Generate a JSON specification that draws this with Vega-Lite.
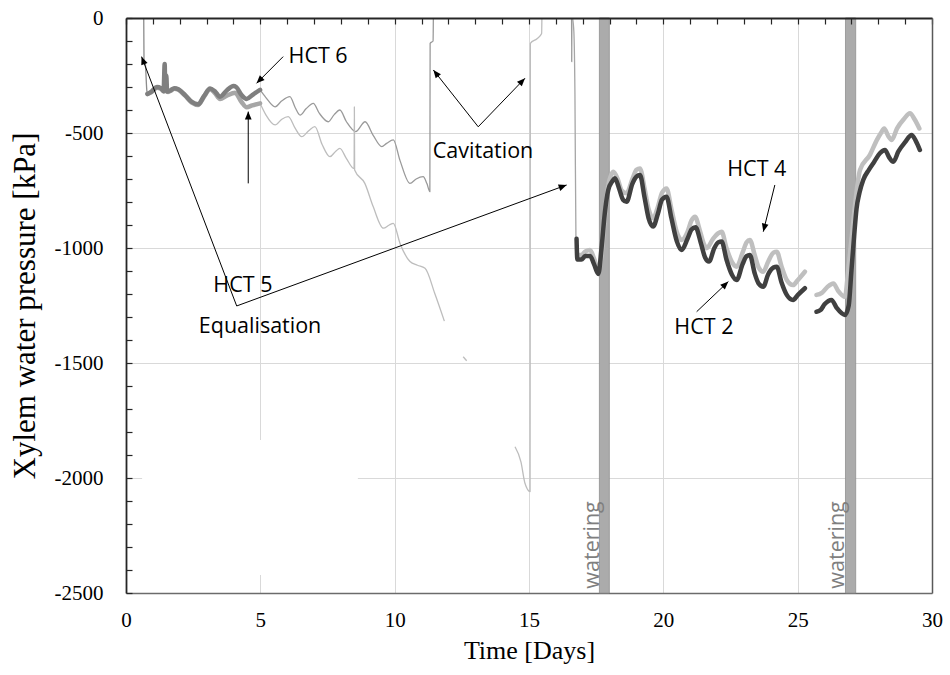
{
  "$schema": "https://vega.github.io/schema/vega-lite/v6.json",
  "width": 806,
  "height": 575,
  "autosize": {"type": "none"},
  "padding": {"left": 126, "top": 18, "right": 18, "bottom": 82},
  "background": "white",
  "config": {"view": {"stroke": null}},
  "datasets": {
    "thin": [
      {"series": "start", "seg": "a", "day": 0.66, "kPa": 0},
      {"series": "start", "seg": "a", "day": 0.67, "kPa": -180},
      {"series": "start", "seg": "a", "day": 0.72, "kPa": -200},
      {"series": "start", "seg": "a", "day": 0.78, "kPa": -320},
      {"series": "start", "seg": "a", "day": 0.82, "kPa": -330},
      {"series": "HCT 6 drift", "seg": "a", "day": 4.99, "kPa": -313},
      {"series": "HCT 6 drift", "seg": "a", "day": 5.2, "kPa": -345},
      {"series": "HCT 6 drift", "seg": "a", "day": 5.55, "kPa": -386},
      {"series": "HCT 6 drift", "seg": "a", "day": 5.8, "kPa": -360},
      {"series": "HCT 6 drift", "seg": "a", "day": 6.1, "kPa": -342},
      {"series": "HCT 6 drift", "seg": "a", "day": 6.3, "kPa": -390},
      {"series": "HCT 6 drift", "seg": "a", "day": 6.48, "kPa": -422},
      {"series": "HCT 6 drift", "seg": "a", "day": 6.7, "kPa": -395},
      {"series": "HCT 6 drift", "seg": "a", "day": 6.97, "kPa": -371},
      {"series": "HCT 6 drift", "seg": "a", "day": 7.2, "kPa": -415},
      {"series": "HCT 6 drift", "seg": "a", "day": 7.53, "kPa": -451},
      {"series": "HCT 6 drift", "seg": "a", "day": 7.75, "kPa": -420},
      {"series": "HCT 6 drift", "seg": "a", "day": 7.96, "kPa": -400},
      {"series": "HCT 6 drift", "seg": "a", "day": 8.2, "kPa": -450},
      {"series": "HCT 6 drift", "seg": "a", "day": 8.55, "kPa": -494},
      {"series": "HCT 6 drift", "seg": "a", "day": 8.9, "kPa": -451},
      {"series": "HCT 6 drift", "seg": "a", "day": 9.2, "kPa": -510},
      {"series": "HCT 6 drift", "seg": "a", "day": 9.52, "kPa": -559},
      {"series": "HCT 6 drift", "seg": "a", "day": 9.7, "kPa": -545},
      {"series": "HCT 6 drift", "seg": "a", "day": 9.95, "kPa": -530},
      {"series": "HCT 6 drift", "seg": "a", "day": 10.2, "kPa": -620},
      {"series": "HCT 6 drift", "seg": "a", "day": 10.57, "kPa": -719},
      {"series": "HCT 6 drift", "seg": "a", "day": 10.8, "kPa": -700},
      {"series": "HCT 6 drift", "seg": "a", "day": 11.06, "kPa": -690},
      {"series": "HCT 6 drift", "seg": "a", "day": 11.2, "kPa": -720},
      {"series": "HCT 6 drift", "seg": "a", "day": 11.31, "kPa": -755},
      {"series": "HCT 6 drift", "seg": "a", "day": 11.32, "kPa": -110},
      {"series": "HCT 6 drift", "seg": "a", "day": 11.43, "kPa": -100},
      {"series": "HCT 6 drift", "seg": "a", "day": 11.44, "kPa": 0},
      {"series": "HCT 5 drift", "seg": "a", "day": 4.99, "kPa": -371},
      {"series": "HCT 5 drift", "seg": "a", "day": 5.2, "kPa": -420},
      {"series": "HCT 5 drift", "seg": "a", "day": 5.55, "kPa": -465},
      {"series": "HCT 5 drift", "seg": "a", "day": 5.8, "kPa": -440},
      {"series": "HCT 5 drift", "seg": "a", "day": 6.04, "kPa": -429},
      {"series": "HCT 5 drift", "seg": "a", "day": 6.3, "kPa": -480},
      {"series": "HCT 5 drift", "seg": "a", "day": 6.54, "kPa": -516},
      {"series": "HCT 5 drift", "seg": "a", "day": 6.8, "kPa": -490},
      {"series": "HCT 5 drift", "seg": "a", "day": 7.03, "kPa": -472},
      {"series": "HCT 5 drift", "seg": "a", "day": 7.3, "kPa": -550},
      {"series": "HCT 5 drift", "seg": "a", "day": 7.59, "kPa": -603},
      {"series": "HCT 5 drift", "seg": "a", "day": 7.8, "kPa": -580},
      {"series": "HCT 5 drift", "seg": "a", "day": 7.96, "kPa": -567},
      {"series": "HCT 5 drift", "seg": "a", "day": 8.2, "kPa": -610},
      {"series": "HCT 5 drift", "seg": "a", "day": 8.49, "kPa": -655},
      {"series": "HCT 5 drift", "seg": "a", "day": 8.5, "kPa": -386},
      {"series": "HCT 5 drift", "seg": "a", "day": 8.51, "kPa": -661},
      {"series": "HCT 5 drift", "seg": "a", "day": 8.89, "kPa": -719},
      {"series": "HCT 5 drift", "seg": "a", "day": 9.2, "kPa": -820},
      {"series": "HCT 5 drift", "seg": "a", "day": 9.58, "kPa": -914},
      {"series": "HCT 5 drift", "seg": "a", "day": 9.8, "kPa": -900},
      {"series": "HCT 5 drift", "seg": "a", "day": 9.95, "kPa": -893},
      {"series": "HCT 5 drift", "seg": "a", "day": 10.2, "kPa": -980},
      {"series": "HCT 5 drift", "seg": "a", "day": 10.57, "kPa": -1059},
      {"series": "HCT 5 drift", "seg": "a", "day": 10.85, "kPa": -1075},
      {"series": "HCT 5 drift", "seg": "a", "day": 11.13, "kPa": -1088},
      {"series": "HCT 5 drift", "seg": "a", "day": 11.5, "kPa": -1200},
      {"series": "HCT 5 drift", "seg": "a", "day": 11.85, "kPa": -1318},
      {"series": "HCT 5 drift", "seg": "b", "day": 12.55, "kPa": -1473},
      {"series": "HCT 5 drift", "seg": "b", "day": 12.68, "kPa": -1490},
      {"series": "HCT 5 drift", "seg": "c", "day": 14.48, "kPa": -1864},
      {"series": "HCT 5 drift", "seg": "c", "day": 14.7, "kPa": -1930},
      {"series": "HCT 5 drift", "seg": "c", "day": 14.85, "kPa": -2023},
      {"series": "HCT 5 drift", "seg": "c", "day": 15.04, "kPa": -2059},
      {"series": "HCT 5 drift", "seg": "c", "day": 15.05, "kPa": -110},
      {"series": "HCT 5 drift", "seg": "c", "day": 15.3, "kPa": -90},
      {"series": "HCT 5 drift", "seg": "c", "day": 15.47, "kPa": -67},
      {"series": "HCT 5 drift", "seg": "c", "day": 15.48, "kPa": 0},
      {"series": "spike", "seg": "a", "day": 16.585, "kPa": 0},
      {"series": "spike", "seg": "a", "day": 16.59, "kPa": -190},
      {"series": "spike", "seg": "a", "day": 16.595, "kPa": 0},
      {"series": "HCT 4 drop", "seg": "a", "day": 16.62, "kPa": 0},
      {"series": "HCT 4 drop", "seg": "a", "day": 16.67, "kPa": -60},
      {"series": "HCT 4 drop", "seg": "a", "day": 16.71, "kPa": -330},
      {"series": "HCT 4 drop", "seg": "a", "day": 16.75, "kPa": -1000},
      {"series": "HCT 4 drop", "seg": "a", "day": 16.8, "kPa": -1035}
    ],
    "thick": [
      {"series": "HCT 5", "seg": "a", "day": 0.8, "kPa": -330},
      {"series": "HCT 5", "seg": "a", "day": 0.95, "kPa": -322},
      {"series": "HCT 5", "seg": "a", "day": 1.15, "kPa": -303},
      {"series": "HCT 5", "seg": "a", "day": 1.3, "kPa": -308},
      {"series": "HCT 5", "seg": "a", "day": 1.42, "kPa": -320},
      {"series": "HCT 5", "seg": "a", "day": 1.48, "kPa": -312},
      {"series": "HCT 5", "seg": "a", "day": 1.56, "kPa": -322},
      {"series": "HCT 5", "seg": "a", "day": 1.65, "kPa": -317},
      {"series": "HCT 5", "seg": "a", "day": 1.8, "kPa": -308},
      {"series": "HCT 5", "seg": "a", "day": 1.95, "kPa": -312},
      {"series": "HCT 5", "seg": "a", "day": 2.2, "kPa": -338},
      {"series": "HCT 5", "seg": "a", "day": 2.45, "kPa": -368},
      {"series": "HCT 5", "seg": "a", "day": 2.69, "kPa": -378},
      {"series": "HCT 5", "seg": "a", "day": 2.9, "kPa": -343},
      {"series": "HCT 5", "seg": "a", "day": 3.13, "kPa": -310},
      {"series": "HCT 5", "seg": "a", "day": 3.3, "kPa": -325},
      {"series": "HCT 5", "seg": "a", "day": 3.5, "kPa": -352},
      {"series": "HCT 5", "seg": "a", "day": 3.75, "kPa": -338},
      {"series": "HCT 5", "seg": "a", "day": 4.06, "kPa": -325},
      {"series": "HCT 5", "seg": "a", "day": 4.3, "kPa": -365},
      {"series": "HCT 5", "seg": "a", "day": 4.49, "kPa": -388},
      {"series": "HCT 5", "seg": "a", "day": 4.7, "kPa": -380},
      {"series": "HCT 5", "seg": "a", "day": 4.99, "kPa": -371},
      {"series": "HCT 6", "seg": "a", "day": 0.8, "kPa": -330},
      {"series": "HCT 6", "seg": "a", "day": 0.95, "kPa": -320},
      {"series": "HCT 6", "seg": "a", "day": 1.15, "kPa": -300},
      {"series": "HCT 6", "seg": "a", "day": 1.3, "kPa": -305},
      {"series": "HCT 6", "seg": "a", "day": 1.4, "kPa": -318},
      {"series": "HCT 6", "seg": "a", "day": 1.44, "kPa": -200},
      {"series": "HCT 6", "seg": "a", "day": 1.46, "kPa": -310},
      {"series": "HCT 6", "seg": "a", "day": 1.5, "kPa": -250},
      {"series": "HCT 6", "seg": "a", "day": 1.53, "kPa": -320},
      {"series": "HCT 6", "seg": "a", "day": 1.65, "kPa": -315},
      {"series": "HCT 6", "seg": "a", "day": 1.8, "kPa": -305},
      {"series": "HCT 6", "seg": "a", "day": 1.95, "kPa": -310},
      {"series": "HCT 6", "seg": "a", "day": 2.2, "kPa": -335},
      {"series": "HCT 6", "seg": "a", "day": 2.45, "kPa": -365},
      {"series": "HCT 6", "seg": "a", "day": 2.69, "kPa": -375},
      {"series": "HCT 6", "seg": "a", "day": 2.9, "kPa": -340},
      {"series": "HCT 6", "seg": "a", "day": 3.13, "kPa": -307},
      {"series": "HCT 6", "seg": "a", "day": 3.3, "kPa": -318},
      {"series": "HCT 6", "seg": "a", "day": 3.5, "kPa": -342},
      {"series": "HCT 6", "seg": "a", "day": 3.75, "kPa": -315},
      {"series": "HCT 6", "seg": "a", "day": 4.0, "kPa": -296},
      {"series": "HCT 6", "seg": "a", "day": 4.1, "kPa": -300},
      {"series": "HCT 6", "seg": "a", "day": 4.3, "kPa": -335},
      {"series": "HCT 6", "seg": "a", "day": 4.49, "kPa": -352},
      {"series": "HCT 6", "seg": "a", "day": 4.7, "kPa": -335},
      {"series": "HCT 6", "seg": "a", "day": 4.99, "kPa": -312},
      {"series": "HCT 4", "seg": "a", "day": 16.8, "kPa": -1030},
      {"series": "HCT 4", "seg": "a", "day": 16.95, "kPa": -1030},
      {"series": "HCT 4", "seg": "a", "day": 17.1, "kPa": -1015},
      {"series": "HCT 4", "seg": "a", "day": 17.27, "kPa": -1009},
      {"series": "HCT 4", "seg": "a", "day": 17.42, "kPa": -1045},
      {"series": "HCT 4", "seg": "a", "day": 17.58, "kPa": -1096},
      {"series": "HCT 4", "seg": "a", "day": 17.68, "kPa": -1050},
      {"series": "HCT 4", "seg": "a", "day": 17.8, "kPa": -900},
      {"series": "HCT 4", "seg": "a", "day": 17.95, "kPa": -730},
      {"series": "HCT 4", "seg": "a", "day": 18.14, "kPa": -668},
      {"series": "HCT 4", "seg": "a", "day": 18.3, "kPa": -700},
      {"series": "HCT 4", "seg": "a", "day": 18.45, "kPa": -750},
      {"series": "HCT 4", "seg": "a", "day": 18.63, "kPa": -762},
      {"series": "HCT 4", "seg": "a", "day": 18.85, "kPa": -700},
      {"series": "HCT 4", "seg": "a", "day": 19.0, "kPa": -660},
      {"series": "HCT 4", "seg": "a", "day": 19.13, "kPa": -654},
      {"series": "HCT 4", "seg": "a", "day": 19.3, "kPa": -740},
      {"series": "HCT 4", "seg": "a", "day": 19.45, "kPa": -830},
      {"series": "HCT 4", "seg": "a", "day": 19.62, "kPa": -871},
      {"series": "HCT 4", "seg": "a", "day": 19.8, "kPa": -820},
      {"series": "HCT 4", "seg": "a", "day": 19.95, "kPa": -760},
      {"series": "HCT 4", "seg": "a", "day": 20.12, "kPa": -741},
      {"series": "HCT 4", "seg": "a", "day": 20.3, "kPa": -830},
      {"series": "HCT 4", "seg": "a", "day": 20.5, "kPa": -930},
      {"series": "HCT 4", "seg": "a", "day": 20.68, "kPa": -965},
      {"series": "HCT 4", "seg": "a", "day": 20.9, "kPa": -930},
      {"series": "HCT 4", "seg": "a", "day": 21.05, "kPa": -880},
      {"series": "HCT 4", "seg": "a", "day": 21.18, "kPa": -864},
      {"series": "HCT 4", "seg": "a", "day": 21.35, "kPa": -920},
      {"series": "HCT 4", "seg": "a", "day": 21.5, "kPa": -980},
      {"series": "HCT 4", "seg": "a", "day": 21.61, "kPa": -1001},
      {"series": "HCT 4", "seg": "a", "day": 21.85, "kPa": -960},
      {"series": "HCT 4", "seg": "a", "day": 22.05, "kPa": -935},
      {"series": "HCT 4", "seg": "a", "day": 22.17, "kPa": -929},
      {"series": "HCT 4", "seg": "a", "day": 22.35, "kPa": -1000},
      {"series": "HCT 4", "seg": "a", "day": 22.55, "kPa": -1060},
      {"series": "HCT 4", "seg": "a", "day": 22.73, "kPa": -1081},
      {"series": "HCT 4", "seg": "a", "day": 22.95, "kPa": -1020},
      {"series": "HCT 4", "seg": "a", "day": 23.1, "kPa": -975},
      {"series": "HCT 4", "seg": "a", "day": 23.22, "kPa": -965},
      {"series": "HCT 4", "seg": "a", "day": 23.4, "kPa": -1030},
      {"series": "HCT 4", "seg": "a", "day": 23.55, "kPa": -1085},
      {"series": "HCT 4", "seg": "a", "day": 23.72, "kPa": -1103},
      {"series": "HCT 4", "seg": "a", "day": 23.9, "kPa": -1060},
      {"series": "HCT 4", "seg": "a", "day": 24.1, "kPa": -1020},
      {"series": "HCT 4", "seg": "a", "day": 24.22, "kPa": -1016},
      {"series": "HCT 4", "seg": "a", "day": 24.4, "kPa": -1080},
      {"series": "HCT 4", "seg": "a", "day": 24.6, "kPa": -1140},
      {"series": "HCT 4", "seg": "a", "day": 24.83, "kPa": -1161},
      {"series": "HCT 4", "seg": "a", "day": 25.0, "kPa": -1140},
      {"series": "HCT 4", "seg": "a", "day": 25.27, "kPa": -1103},
      {"series": "HCT 4", "seg": "b", "day": 25.7, "kPa": -1204},
      {"series": "HCT 4", "seg": "b", "day": 25.9, "kPa": -1195},
      {"series": "HCT 4", "seg": "b", "day": 26.1, "kPa": -1170},
      {"series": "HCT 4", "seg": "b", "day": 26.33, "kPa": -1154},
      {"series": "HCT 4", "seg": "b", "day": 26.5, "kPa": -1185},
      {"series": "HCT 4", "seg": "b", "day": 26.76, "kPa": -1212},
      {"series": "HCT 4", "seg": "b", "day": 26.88, "kPa": -1100},
      {"series": "HCT 4", "seg": "b", "day": 27.0, "kPa": -965},
      {"series": "HCT 4", "seg": "b", "day": 27.13, "kPa": -820},
      {"series": "HCT 4", "seg": "b", "day": 27.32, "kPa": -661},
      {"series": "HCT 4", "seg": "b", "day": 27.69, "kPa": -595},
      {"series": "HCT 4", "seg": "b", "day": 27.95, "kPa": -530},
      {"series": "HCT 4", "seg": "b", "day": 28.1, "kPa": -500},
      {"series": "HCT 4", "seg": "b", "day": 28.22, "kPa": -480},
      {"series": "HCT 4", "seg": "b", "day": 28.38, "kPa": -515},
      {"series": "HCT 4", "seg": "b", "day": 28.5, "kPa": -530},
      {"series": "HCT 4", "seg": "b", "day": 28.7, "kPa": -480},
      {"series": "HCT 4", "seg": "b", "day": 28.95, "kPa": -440},
      {"series": "HCT 4", "seg": "b", "day": 29.18, "kPa": -414},
      {"series": "HCT 4", "seg": "b", "day": 29.35, "kPa": -440},
      {"series": "HCT 4", "seg": "b", "day": 29.53, "kPa": -480},
      {"series": "HCT 2", "seg": "a", "day": 16.77, "kPa": -960},
      {"series": "HCT 2", "seg": "a", "day": 16.8, "kPa": -1050},
      {"series": "HCT 2", "seg": "a", "day": 16.95, "kPa": -1050},
      {"series": "HCT 2", "seg": "a", "day": 17.1, "kPa": -1035},
      {"series": "HCT 2", "seg": "a", "day": 17.27, "kPa": -1035},
      {"series": "HCT 2", "seg": "a", "day": 17.42, "kPa": -1070},
      {"series": "HCT 2", "seg": "a", "day": 17.58, "kPa": -1113},
      {"series": "HCT 2", "seg": "a", "day": 17.7, "kPa": -1000},
      {"series": "HCT 2", "seg": "a", "day": 17.82, "kPa": -850},
      {"series": "HCT 2", "seg": "a", "day": 17.95, "kPa": -748},
      {"series": "HCT 2", "seg": "a", "day": 18.1, "kPa": -710},
      {"series": "HCT 2", "seg": "a", "day": 18.2, "kPa": -697},
      {"series": "HCT 2", "seg": "a", "day": 18.35, "kPa": -740},
      {"series": "HCT 2", "seg": "a", "day": 18.5, "kPa": -790},
      {"series": "HCT 2", "seg": "a", "day": 18.63, "kPa": -799},
      {"series": "HCT 2", "seg": "a", "day": 18.85, "kPa": -720},
      {"series": "HCT 2", "seg": "a", "day": 19.0, "kPa": -690},
      {"series": "HCT 2", "seg": "a", "day": 19.13, "kPa": -683},
      {"series": "HCT 2", "seg": "a", "day": 19.3, "kPa": -780},
      {"series": "HCT 2", "seg": "a", "day": 19.45, "kPa": -870},
      {"series": "HCT 2", "seg": "a", "day": 19.62, "kPa": -907},
      {"series": "HCT 2", "seg": "a", "day": 19.8, "kPa": -850},
      {"series": "HCT 2", "seg": "a", "day": 19.95, "kPa": -790},
      {"series": "HCT 2", "seg": "a", "day": 20.12, "kPa": -777},
      {"series": "HCT 2", "seg": "a", "day": 20.3, "kPa": -870},
      {"series": "HCT 2", "seg": "a", "day": 20.5, "kPa": -970},
      {"series": "HCT 2", "seg": "a", "day": 20.68, "kPa": -1009},
      {"series": "HCT 2", "seg": "a", "day": 20.9, "kPa": -960},
      {"series": "HCT 2", "seg": "a", "day": 21.05, "kPa": -920},
      {"series": "HCT 2", "seg": "a", "day": 21.2, "kPa": -910},
      {"series": "HCT 2", "seg": "a", "day": 21.4, "kPa": -980},
      {"series": "HCT 2", "seg": "a", "day": 21.55, "kPa": -1040},
      {"series": "HCT 2", "seg": "a", "day": 21.7, "kPa": -1059},
      {"series": "HCT 2", "seg": "a", "day": 21.9, "kPa": -1000},
      {"series": "HCT 2", "seg": "a", "day": 22.05, "kPa": -975},
      {"series": "HCT 2", "seg": "a", "day": 22.17, "kPa": -972},
      {"series": "HCT 2", "seg": "a", "day": 22.35, "kPa": -1050},
      {"series": "HCT 2", "seg": "a", "day": 22.55, "kPa": -1115},
      {"series": "HCT 2", "seg": "a", "day": 22.73, "kPa": -1139},
      {"series": "HCT 2", "seg": "a", "day": 22.95, "kPa": -1070},
      {"series": "HCT 2", "seg": "a", "day": 23.1, "kPa": -1035},
      {"series": "HCT 2", "seg": "a", "day": 23.22, "kPa": -1030},
      {"series": "HCT 2", "seg": "a", "day": 23.4, "kPa": -1110},
      {"series": "HCT 2", "seg": "a", "day": 23.55, "kPa": -1155},
      {"series": "HCT 2", "seg": "a", "day": 23.72, "kPa": -1168},
      {"series": "HCT 2", "seg": "a", "day": 23.9, "kPa": -1115},
      {"series": "HCT 2", "seg": "a", "day": 24.1, "kPa": -1085},
      {"series": "HCT 2", "seg": "a", "day": 24.22, "kPa": -1081},
      {"series": "HCT 2", "seg": "a", "day": 24.4, "kPa": -1150},
      {"series": "HCT 2", "seg": "a", "day": 24.6, "kPa": -1205},
      {"series": "HCT 2", "seg": "a", "day": 24.83, "kPa": -1226},
      {"series": "HCT 2", "seg": "a", "day": 25.0, "kPa": -1205},
      {"series": "HCT 2", "seg": "a", "day": 25.27, "kPa": -1175},
      {"series": "HCT 2", "seg": "b", "day": 25.7, "kPa": -1277},
      {"series": "HCT 2", "seg": "b", "day": 25.85, "kPa": -1270},
      {"series": "HCT 2", "seg": "b", "day": 26.0, "kPa": -1245},
      {"series": "HCT 2", "seg": "b", "day": 26.26, "kPa": -1226},
      {"series": "HCT 2", "seg": "b", "day": 26.45, "kPa": -1260},
      {"series": "HCT 2", "seg": "b", "day": 26.76, "kPa": -1291},
      {"series": "HCT 2", "seg": "b", "day": 26.9, "kPa": -1250},
      {"series": "HCT 2", "seg": "b", "day": 27.0, "kPa": -1100},
      {"series": "HCT 2", "seg": "b", "day": 27.1, "kPa": -950},
      {"series": "HCT 2", "seg": "b", "day": 27.19, "kPa": -830},
      {"series": "HCT 2", "seg": "b", "day": 27.3, "kPa": -760},
      {"series": "HCT 2", "seg": "b", "day": 27.44, "kPa": -704},
      {"series": "HCT 2", "seg": "b", "day": 27.65, "kPa": -660},
      {"series": "HCT 2", "seg": "b", "day": 27.85, "kPa": -625},
      {"series": "HCT 2", "seg": "b", "day": 28.06, "kPa": -588},
      {"series": "HCT 2", "seg": "b", "day": 28.25, "kPa": -574},
      {"series": "HCT 2", "seg": "b", "day": 28.4, "kPa": -605},
      {"series": "HCT 2", "seg": "b", "day": 28.56, "kPa": -625},
      {"series": "HCT 2", "seg": "b", "day": 28.75, "kPa": -580},
      {"series": "HCT 2", "seg": "b", "day": 29.0, "kPa": -540},
      {"series": "HCT 2", "seg": "b", "day": 29.24, "kPa": -509},
      {"series": "HCT 2", "seg": "b", "day": 29.4, "kPa": -535},
      {"series": "HCT 2", "seg": "b", "day": 29.55, "kPa": -574}
    ],
    "arrows": [
      {"name": "HCT 6", "x0": 5.85, "y0": -168, "x1": 4.86, "y1": -284},
      {"name": "HCT 5", "x0": 4.55, "y0": -719, "x1": 4.55, "y1": -407},
      {"name": "Cavitation L", "x0": 13.11, "y0": -473, "x1": 11.44, "y1": -226},
      {"name": "Cavitation R", "x0": 13.11, "y0": -473, "x1": 14.85, "y1": -262},
      {"name": "Equalisation L", "x0": 4.12, "y0": -1252, "x1": 0.58, "y1": -168},
      {"name": "Equalisation R", "x0": 4.12, "y0": -1252, "x1": 16.4, "y1": -726},
      {"name": "HCT 4", "x0": 24.15, "y0": -726, "x1": 23.72, "y1": -929},
      {"name": "HCT 2", "x0": 21.24, "y0": -1277, "x1": 22.42, "y1": -1146}
    ],
    "labels": [
      {"label": "HCT 6", "x": 7.15, "y": -170},
      {"label": "HCT 5", "x": 4.35, "y": -1165},
      {"label": "Cavitation", "x": 13.29, "y": -583},
      {"label": "Equalisation", "x": 4.99, "y": -1343},
      {"label": "HCT 4", "x": 23.48, "y": -661},
      {"label": "HCT 2", "x": 21.51, "y": -1348}
    ],
    "watering": [
      {"label": "watering", "x": 17.38, "y": -2291},
      {"label": "watering", "x": 26.5, "y": -2291}
    ],
    "bands": [
      {"start": 17.62, "end": 17.99, "top": 0, "bottom": -2500},
      {"start": 26.78, "end": 27.16, "top": 0, "bottom": -2500}
    ],
    "mask": [
      {"x0": 0.6, "x1": 8.63, "y0": -1835, "y1": -2422}
    ]
  },
  "resolve": {"axis": {"x": "independent", "y": "independent"}},
  "layer": [
    {
      "data": {"name": "mask"},
      "mark": {"type": "rect", "fill": "white", "stroke": null},
      "encoding": {
        "x": {
          "field": "x0", "type": "quantitative",
          "scale": {"domain": [0, 30], "nice": false, "zero": false},
          "axis": {
            "orient": "bottom", "title": "Time [Days]",
            "values": [0, 5, 10, 15, 20, 25, 30],
            "ticks": false, "grid": true, "gridColor": "#d9d9d9", "gridWidth": 1,
            "gridOpacity": {"condition": {"test": "datum.value > 0 && datum.value < 30", "value": 1}, "value": 0},
            "domainColor": "#6b6b6b", "domainWidth": 1.5,
            "labelFont": "Liberation Serif", "labelFontSize": 21, "labelColor": "black",
            "labelPadding": 27, "labelBaseline": "middle", "labelFlush": false, "labelOverlap": false,
            "titleFont": "Liberation Serif", "titleFontSize": 26, "titleFontWeight": "normal", "titleColor": "black",
            "titleX": 403, "titleY": 57, "titleAlign": "center", "titleBaseline": "middle"
          }
        },
        "x2": {"field": "x1"},
        "y": {
          "field": "y0", "type": "quantitative",
          "scale": {"domain": [-2500, 0], "nice": false, "zero": false},
          "axis": {
            "orient": "left", "title": "Xylem water pressure [kPa]",
            "values": [-2500, -2400, -2300, -2200, -2100, -2000, -1900, -1800, -1700, -1600, -1500, -1400, -1300, -1200, -1100, -1000, -900, -800, -700, -600, -500, -400, -300, -200, -100, 0],
            "labelExpr": "datum.value % 500 === 0 ? '' + datum.value : ''",
            "ticks": true, "tickSize": -6, "tickColor": "#262626", "tickWidth": 1.2,
            "grid": true, "gridColor": "#d9d9d9", "gridWidth": 1,
            "gridOpacity": {"condition": {"test": "datum.value % 500 === 0 && datum.value < 0 && datum.value > -2500", "value": 1}, "value": 0},
            "domainColor": "#262626", "domainWidth": 1.8,
            "labelFont": "Liberation Serif", "labelFontSize": 21, "labelColor": "black",
            "labelPadding": 29, "labelBaseline": "middle", "labelFlush": false, "labelOverlap": false,
            "titleFont": "Liberation Serif", "titleFontSize": 31, "titleFontWeight": "normal", "titleColor": "black",
            "titleX": -101, "titleY": 287.5, "titleAngle": 270, "titleAlign": "center", "titleBaseline": "middle"
          }
        },
        "y2": {"field": "y1"}
      }
    },
    {
      "data": {"name": "bands"},
      "mark": {"type": "rect", "fill": "#ababab", "stroke": "#8f8f8f", "strokeWidth": 0.8},
      "encoding": {
        "x": {
          "field": "start", "type": "quantitative",
          "axis": {
            "orient": "top", "title": null, "labels": false, "grid": false,
            "values": [0,1,2,3,4,5,6,7,8,9,10,11,12,13,14,15,16,17,18,19,20,21,22,23,24,25,26,27,28,29,30],
            "ticks": true, "tickSize": -6, "tickColor": "#262626", "tickWidth": 1.2,
            "domainColor": "#262626", "domainWidth": 1.8, "zindex": 1
          }
        },
        "x2": {"field": "end"},
        "y": {
          "field": "top", "type": "quantitative",
          "axis": {
            "orient": "right", "title": null, "labels": false, "grid": false, "ticks": false,
            "domainColor": "#595959", "domainWidth": 1.5, "zindex": 1
          }
        },
        "y2": {"field": "bottom"}
      }
    },
    {
      "data": {"name": "thin"},
      "mark": {"type": "line", "strokeWidth": 1.3, "strokeJoin": "round", "interpolate": "monotone"},
      "encoding": {
        "x": {"field": "day", "type": "quantitative", "axis": null},
        "y": {"field": "kPa", "type": "quantitative", "axis": null},
        "color": {
          "field": "series", "type": "nominal", "legend": null,
          "scale": {
            "domain": ["start", "HCT 6 drift", "HCT 5 drift", "spike", "HCT 4 drop", "HCT 5", "HCT 6", "HCT 4", "HCT 2"],
            "range": ["#8c8c8c", "#9a9a9a", "#bdbdbd", "#9a9a9a", "#a6a6a6", "#a6a6a6", "#7f7f7f", "#bfbfbf", "#404040"]
          }
        },
        "detail": {"field": "seg"}
      }
    },
    {
      "data": {"name": "thick"},
      "mark": {"type": "line", "strokeWidth": 4.5, "strokeJoin": "round", "strokeCap": "round", "interpolate": "monotone"},
      "encoding": {
        "x": {"field": "day", "type": "quantitative", "axis": null},
        "y": {"field": "kPa", "type": "quantitative", "axis": null},
        "color": {
          "field": "series", "type": "nominal", "legend": null,
          "scale": {
            "domain": ["start", "HCT 6 drift", "HCT 5 drift", "spike", "HCT 4 drop", "HCT 5", "HCT 6", "HCT 4", "HCT 2"],
            "range": ["#8c8c8c", "#9a9a9a", "#bdbdbd", "#9a9a9a", "#a6a6a6", "#a6a6a6", "#7f7f7f", "#bfbfbf", "#404040"]
          }
        },
        "detail": {"field": "seg"}
      }
    },
    {
      "data": {"name": "arrows"},
      "mark": {"type": "rule", "color": "black", "strokeWidth": 1},
      "encoding": {
        "x": {"field": "x0", "type": "quantitative", "axis": null},
        "y": {"field": "y0", "type": "quantitative", "axis": null},
        "x2": {"field": "x1"},
        "y2": {"field": "y1"}
      }
    },
    {
      "data": {"name": "arrows"},
      "transform": [
        {"calculate": "atan2(scale('x', datum.x1) - scale('x', datum.x0), scale('y', datum.y0) - scale('y', datum.y1)) * 180 / PI", "as": "heading"}
      ],
      "mark": {"type": "point", "shape": "M0,0L-0.42,1L0.42,1Z", "filled": true, "color": "black", "size": 256, "opacity": 1},
      "encoding": {
        "x": {"field": "x1", "type": "quantitative", "axis": null},
        "y": {"field": "y1", "type": "quantitative", "axis": null},
        "angle": {"field": "heading", "type": "quantitative", "scale": null}
      }
    },
    {
      "data": {"name": "labels"},
      "mark": {"type": "text", "font": "Open Sans", "fontSize": 21.5, "color": "black", "align": "center", "baseline": "middle"},
      "encoding": {
        "x": {"field": "x", "type": "quantitative", "axis": null},
        "y": {"field": "y", "type": "quantitative", "axis": null},
        "text": {"field": "label"}
      }
    },
    {
      "data": {"name": "watering"},
      "mark": {"type": "text", "font": "Open Sans", "fontSize": 21.5, "color": "#7f7f7f", "align": "center", "baseline": "middle", "angle": 270},
      "encoding": {
        "x": {"field": "x", "type": "quantitative", "axis": null},
        "y": {"field": "y", "type": "quantitative", "axis": null},
        "text": {"field": "label"}
      }
    }
  ]
}
